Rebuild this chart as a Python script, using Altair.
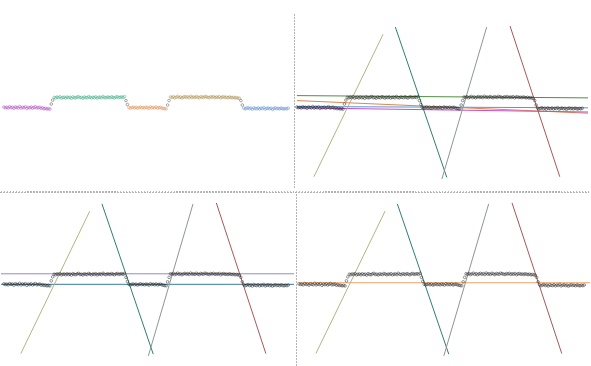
import altair as alt
import pandas as pd

# ---- data: sample index and signal value per segment ----
seg_names = ["s1", "tr1", "s2", "tr2", "s3", "tr3", "s4", "tr4", "s5"]
seg_starts = [2, 35, 37, 87, 89, 116, 118, 167, 169]
seg1 = [2.05, 1.98, 2.02, 1.95, 2.08, 1.99, 2.03, 1.92, 2.06, 2.00, 1.96, 2.10, 1.94, 2.04, 1.98, 2.07, 1.90,
        2.02, 1.97, 2.05, 1.93, 2.01, 2.08, 1.95, 1.99, 2.03, 1.91, 1.97, 1.88, 1.92, 1.85, 1.89, 1.84]
tr1 = [2.35, 2.75]
seg2 = [3.02, 2.97, 3.05, 2.99, 3.08, 2.95, 3.01, 3.04, 2.96, 3.06, 2.98, 3.03, 2.93, 3.07, 3.00, 2.97, 3.05,
        3.10, 2.99, 3.02, 2.94, 3.06, 3.01, 2.98, 3.09, 3.03, 2.96, 3.04, 3.00, 3.07, 2.95, 3.02, 3.05, 2.98,
        3.11, 3.01, 2.97, 3.06, 3.03, 2.99, 3.08, 3.02, 2.96, 3.05, 3.09, 3.00, 3.04, 3.07, 3.01, 3.10]
tr2 = [2.7, 2.3]
seg3 = [2.01, 1.94, 1.99, 2.04, 1.96, 2.02, 1.93, 1.98, 2.05, 1.97, 2.00, 1.95, 2.03, 1.99, 1.92, 2.06, 1.98,
        2.01, 1.96, 2.04, 1.94, 1.99, 2.02, 1.95, 1.91, 1.88, 1.86]
tr3 = [2.25, 2.7]
seg4 = [3.06, 3.01, 3.09, 2.98, 3.04, 3.12, 3.00, 3.07, 2.97, 3.05, 3.10, 3.02, 3.08, 2.99, 3.13, 3.03, 3.06,
        3.00, 3.11, 3.04, 2.98, 3.09, 3.05, 3.01, 3.12, 3.07, 3.03, 2.99, 3.08, 3.04, 3.10, 3.00, 3.06, 3.02,
        3.09, 2.97, 3.05, 3.08, 3.01, 3.04, 2.99, 3.06, 3.02, 2.98, 3.03, 2.96, 3.00, 2.95, 2.93]
tr4 = [2.7, 2.25]
seg5 = [1.95, 1.86, 1.92, 1.98, 1.88, 1.94, 1.83, 1.97, 1.90, 1.87, 1.96, 1.85, 1.93, 1.89, 1.99, 1.84, 1.91,
        1.95, 1.87, 1.93, 1.82, 1.90, 1.96, 1.88, 1.92, 1.86, 1.94, 1.89, 1.85, 1.91, 1.87, 1.93]
seg_values = [seg1, tr1, seg2, tr2, seg3, tr3, seg4, tr4, seg5]
seg_colors = ["#b040c0", "#444444", "#36a880", "#2f4a3c", "#e08a50", "#555555", "#a88a48", "#444444", "#5a88cc"]

# ---- fitted lines: (name, t0, v0, t1, v1, colour) ----
diag_names = ["up1", "down1", "up2", "down2"]
diag_t0 = [13.8, 70.3, 102.6, 149.9]
diag_v0 = [-4.97, 10.1, -5.2, 10.2]
diag_t1 = [61.8, 106.0, 133.7, 184.4]
diag_v1 = [9.37, -5.03, 10.1, -4.97]
diag_colors = ["#b0b482", "#2e7d6e", "#8c9494", "#a45858"]

tr_names = ["fit_green", "fit_orange", "fit_blue", "fit_magenta"]
tr_v0 = [3.2, 2.7, 2.1, 1.97]
tr_v1 = [2.97, 1.43, 1.97, 1.55]
tr_colors = ["#4e8e3e", "#e0844a", "#5a94d2", "#c84cc8"]

bl_names = ["lvl_purple", "lvl_blue"]
bl_v = [3.06, 2.0]
bl_colors = ["#9484e0", "#3a7aa0"]

br_names = ["lvl_orange"]
br_v = [2.16]
br_colors = ["#eea466"]

# ---- tables ----
rows = []
for name, start, vals in zip(seg_names, seg_starts, seg_values):
    for i, v in enumerate(vals):
        rows.append({"t": start + i, "v": v, "seg": name})
pts = pd.DataFrame(rows)

diag = pd.DataFrame(
    [{"t": a, "v": b, "line": n} for n, a, b in zip(diag_names, diag_t0, diag_v0)]
    + [{"t": a, "v": b, "line": n} for n, a, b in zip(diag_names, diag_t1, diag_v1)]
)
trl = pd.DataFrame(
    [{"t": 2, "v": a, "line": n} for n, a in zip(tr_names, tr_v0)]
    + [{"t": 204, "v": b, "line": n} for n, b in zip(tr_names, tr_v1)]
)
bll = pd.DataFrame(
    [{"t": 0, "v": a, "line": n} for n, a in zip(bl_names, bl_v)]
    + [{"t": 204, "v": a, "line": n} for n, a in zip(bl_names, bl_v)]
)
brl = pd.DataFrame(
    [{"t": 2, "v": a, "line": n} for n, a in zip(br_names, br_v)]
    + [{"t": 204, "v": a, "line": n} for n, a in zip(br_names, br_v)]
)

XS = alt.Scale(domain=[0, 204], nice=False, zero=False)
Y_TOP = alt.Scale(domain=[-6.3, 12.7], nice=False, zero=False)
Y_BOT = alt.Scale(domain=[-6.3, 11.3], nice=False, zero=False)
WL, WR, HT, HB = 295, 296, 190, 176
RULE_COLOR = "#b4b4b4"


def lines(df, names, colors, ys):
    return alt.Chart(df).mark_line(strokeWidth=1, clip=True).encode(
        x=alt.X("t:Q", scale=XS, axis=None),
        y=alt.Y("v:Q", scale=ys, axis=None),
        color=alt.Color("line:N", scale=alt.Scale(domain=names, range=colors), legend=None),
        detail="line:N",
    )


def black_points(ys):
    return alt.Chart(pts).mark_point(size=7, strokeWidth=0.7, filled=False, color="#222222",
                                     clip=True).encode(
        x=alt.X("t:Q", scale=XS, axis=None),
        y=alt.Y("v:Q", scale=ys, axis=None),
    )


def vrule(y0, y1):
    return alt.Chart(pts).mark_rule(color=RULE_COLOR, strokeDash=[1, 2], strokeWidth=1).encode(
        x=alt.value(0.5), y=alt.value(y0), y2=alt.value(y1))


def hrule(w):
    return alt.Chart(pts).mark_rule(color=RULE_COLOR, strokeDash=[1, 2], strokeWidth=1).encode(
        y=alt.value(0.5), x=alt.value(0), x2=alt.value(w))


tl = alt.Chart(pts).mark_point(size=7, strokeWidth=0.7, filled=False, clip=True).encode(
    x=alt.X("t:Q", scale=XS, axis=None),
    y=alt.Y("v:Q", scale=Y_TOP, axis=None),
    color=alt.Color("seg:N", scale=alt.Scale(domain=seg_names, range=seg_colors), legend=None),
).properties(width=WL, height=HT)

tr = alt.layer(
    lines(trl, tr_names, tr_colors, Y_TOP),
    lines(diag, diag_names, diag_colors, Y_TOP),
    black_points(Y_TOP),
    vrule(13, HT),
).resolve_scale(color="independent").properties(width=WR, height=HT)

bl = alt.layer(
    lines(bll, bl_names, bl_colors, Y_BOT),
    lines(diag, diag_names, diag_colors, Y_BOT),
    black_points(Y_BOT),
    hrule(WL),
).resolve_scale(color="independent").properties(width=WL, height=HB)

br = alt.layer(
    lines(brl, br_names, br_colors, Y_BOT),
    lines(diag, diag_names, diag_colors, Y_BOT),
    black_points(Y_BOT),
    hrule(WR),
    vrule(0, HB),
).resolve_scale(color="independent").properties(width=WR, height=HB)

chart = alt.vconcat(
    alt.hconcat(tl, tr, spacing=0),
    alt.hconcat(bl, br, spacing=0),
    spacing=0,
).configure(padding=0).configure_view(stroke=None).configure_concat(spacing=0)

chart.save("out.html", embed_options={"renderer": "svg", "actions": False})
